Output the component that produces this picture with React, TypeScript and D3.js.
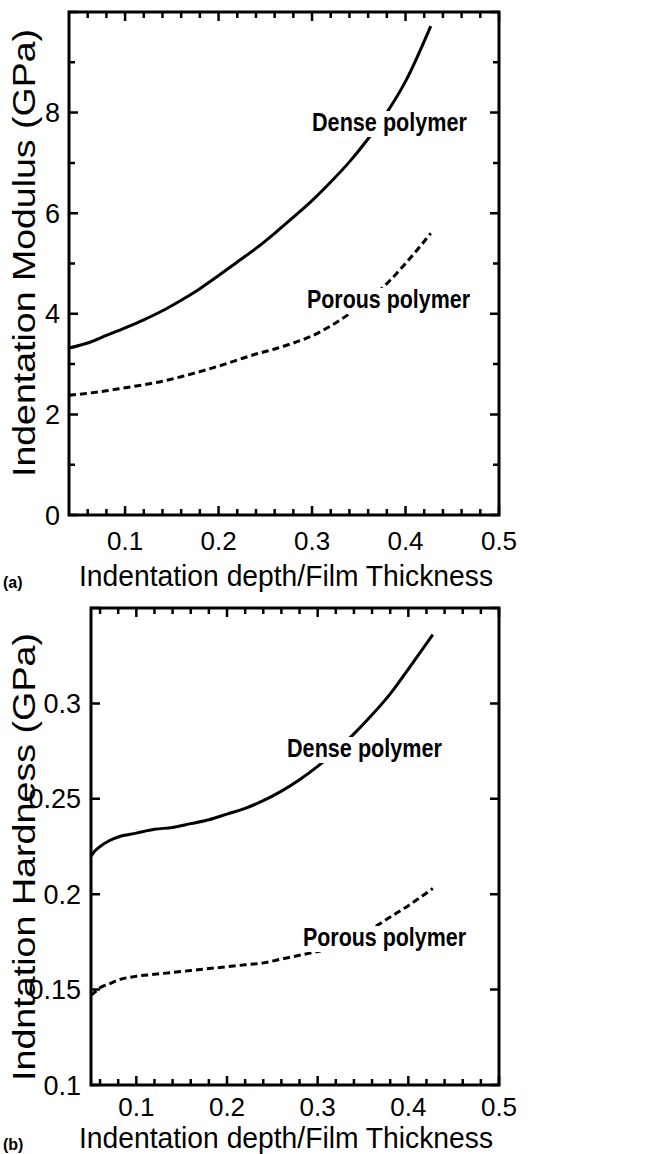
import React from "react";
import * as d3 from "d3";

// Panel (a): indentation modulus vs normalised depth
const modDepth = [0.04, 0.06, 0.08, 0.1, 0.12, 0.14, 0.16, 0.18, 0.2, 0.22, 0.24, 0.26, 0.28, 0.3, 0.32, 0.34, 0.36, 0.38, 0.4, 0.427];
const modDense = [3.32, 3.42, 3.57, 3.72, 3.88, 4.06, 4.27, 4.5, 4.76, 5.03, 5.3, 5.6, 5.92, 6.25, 6.62, 7.02, 7.48, 8.0, 8.62, 9.72];
const modPorous = [2.38, 2.42, 2.47, 2.53, 2.59, 2.66, 2.75, 2.85, 2.96, 3.08, 3.2, 3.3, 3.42, 3.56, 3.76, 4.0, 4.27, 4.6, 5.0, 5.6];

// Panel (b): indentation hardness vs normalised depth
const hardDepth = [0.05, 0.055, 0.06, 0.07, 0.08, 0.1, 0.12, 0.14, 0.16, 0.18, 0.2, 0.22, 0.24, 0.26, 0.28, 0.3, 0.32, 0.34, 0.36, 0.38, 0.4, 0.427];
const hardDense = [0.22, 0.223, 0.225, 0.228, 0.23, 0.232, 0.234, 0.235, 0.237, 0.239, 0.242, 0.245, 0.249, 0.254, 0.26, 0.267, 0.275, 0.284, 0.294, 0.305, 0.318, 0.336];
const hardPorous = [0.147, 0.149, 0.151, 0.153, 0.155, 0.157, 0.158, 0.159, 0.16, 0.161, 0.162, 0.163, 0.164, 0.166, 0.168, 0.17, 0.173, 0.177, 0.182, 0.188, 0.194, 0.203];

const xMajorTicks = [0.1, 0.2, 0.3, 0.4, 0.5];
const xTickLabels = ["0.1", "0.2", "0.3", "0.4", "0.5"];
const modYTicks = [0, 2, 4, 6, 8, 10];
const modYLabels = ["0", "2", "4", "6", "8", ""];
const modYMinor = [1, 3, 5, 7, 9];
const hardYTicks = [0.1, 0.15, 0.2, 0.25, 0.3, 0.35];
const hardYLabels = ["0.1", "0.15", "0.2", "0.25", "0.3", ""];

const FONT = "'Liberation Sans', Arial, Helvetica, sans-serif";

type Tag = { x: number; y: number; len: number };

type PanelProps = {
  left: number; right: number; top: number; bottom: number;
  xDomain: [number, number]; yDomain: [number, number];
  yTicks: number[]; yLabels: string[]; yMinor: number[];
  xs: number[]; dense: number[]; porous: number[];
  yTitle: string; yTitleCy: number; tag: string;
  dLabel: Tag; pLabel: Tag;
  yLabelX: number; xTickY: number; xTitleY: number; tagY: number;
};

function CurveLabel({ t, text }: { t: Tag; text: string }) {
  return (
    <g>
      <rect x={t.x - 1} y={t.y - 20} width={t.len + 2} height={26} fill="#fff" />
      <text x={t.x} y={t.y} fontFamily={FONT} fontWeight="bold" fontSize={25} textLength={t.len} lengthAdjust="spacingAndGlyphs" fill="#000">{text}</text>
    </g>
  );
}

function Panel(p: PanelProps) {
  const x = d3.scaleLinear().domain(p.xDomain).range([p.left, p.right]);
  const y = d3.scaleLinear().domain(p.yDomain).range([p.bottom, p.top]);
  const line = d3.line<number>().x((_, i) => x(p.xs[i])).y((v) => y(v)).curve(d3.curveMonotoneX);
  const xMinor = d3.range(1, 25).map((k) => k * 0.02)
    .filter((v) => v > p.xDomain[0] + 1e-6 && v < p.xDomain[1] - 1e-6 && Math.abs(Math.round(v * 10) - v * 10) > 1e-6);
  const major = 9, minor = 6;
  const tickPath: string[] = [];
  xMajorTicks.forEach((t) => {
    const px = x(t);
    tickPath.push(`M${px},${p.bottom}V${p.bottom - major}M${px},${p.top}V${p.top + major}`);
  });
  xMinor.forEach((t) => {
    const px = x(t);
    tickPath.push(`M${px},${p.bottom}V${p.bottom - minor}M${px},${p.top}V${p.top + minor}`);
  });
  p.yTicks.forEach((t) => {
    const py = y(t);
    tickPath.push(`M${p.left},${py}H${p.left + major}M${p.right},${py}H${p.right - major}`);
  });
  p.yMinor.forEach((t) => {
    const py = y(t);
    tickPath.push(`M${p.left},${py}H${p.left + minor}M${p.right},${py}H${p.right - minor}`);
  });
  return (
    <g>
      <path d={line(p.dense) || ""} fill="none" stroke="#000" strokeWidth={3} />
      <path d={line(p.porous) || ""} fill="none" stroke="#000" strokeWidth={3} strokeDasharray="7,4" />
      <CurveLabel t={p.dLabel} text="Dense polymer" />
      <CurveLabel t={p.pLabel} text="Porous polymer" />
      <path d={tickPath.join("")} stroke="#000" strokeWidth={2.5} fill="none" />
      <rect x={p.left} y={p.top} width={p.right - p.left} height={p.bottom - p.top} fill="none" stroke="#000" strokeWidth={3} />
      {xMajorTicks.map((t, i) => (
        <text key={"xl" + i} x={x(t)} y={p.xTickY} textAnchor="middle" fontFamily={FONT} fontSize={26} fill="#000">{xTickLabels[i]}</text>
      ))}
      {p.yTicks.map((t, i) => (
        <text key={"yl" + i} x={p.yLabelX} y={y(t) + 9.5} textAnchor="end" fontFamily={FONT} fontSize={27} fill="#000">{p.yLabels[i]}</text>
      ))}
      <text x={286} y={p.xTitleY} textAnchor="middle" fontFamily={FONT} fontSize={29} textLength={414} lengthAdjust="spacingAndGlyphs" fill="#000">Indentation depth/Film Thickness</text>
      <text transform={`translate(35,${p.yTitleCy}) rotate(-90)`} textAnchor="middle" fontFamily={FONT} fontSize={31} textLength={448} lengthAdjust="spacingAndGlyphs" fill="#000">{p.yTitle}</text>
      <text x={3} y={p.tagY} fontFamily={FONT} fontWeight="bold" fontSize={16} fill="#000">{p.tag}</text>
    </g>
  );
}

export default function App() {
  return (
    <svg width={666} height={1154} viewBox="0 0 666 1154" style={{ position: "absolute", left: 0, top: 0, background: "#fff" }}>
      <rect width={666} height={1154} fill="#fff" />
      <Panel
        left={69} right={499} top={12} bottom={515}
        xDomain={[0.04, 0.5]} yDomain={[0, 10]}
        yTicks={modYTicks} yLabels={modYLabels} yMinor={modYMinor}
        xs={modDepth} dense={modDense} porous={modPorous}
        yTitle="Indentation Modulus (GPa)" yTitleCy={253} tag="(a)"
        dLabel={{ x: 312, y: 131, len: 155 }} pLabel={{ x: 307, y: 308, len: 163 }}
        yLabelX={60} xTickY={550} xTitleY={586} tagY={588}
      />
      <Panel
        left={91} right={499} top={608} bottom={1085}
        xDomain={[0.05, 0.5]} yDomain={[0.1, 0.35]}
        yTicks={hardYTicks} yLabels={hardYLabels} yMinor={[]}
        xs={hardDepth} dense={hardDense} porous={hardPorous}
        yTitle="Indntation Hardness (GPa)" yTitleCy={857} tag="(b)"
        dLabel={{ x: 287, y: 757, len: 155 }} pLabel={{ x: 303, y: 946, len: 163 }}
        yLabelX={81} xTickY={1116} xTitleY={1148} tagY={1150}
      />
    </svg>
  );
}
